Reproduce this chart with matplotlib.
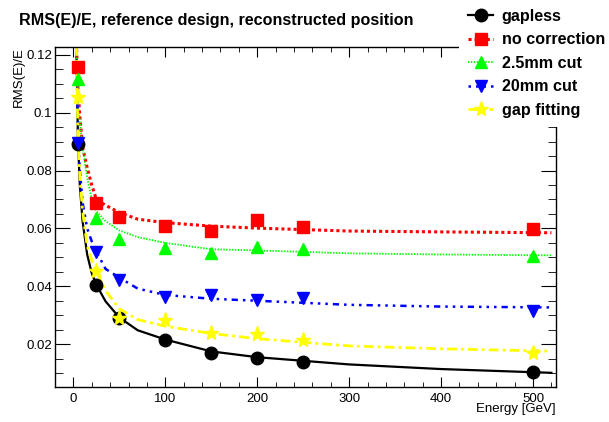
import numpy as np
import matplotlib
matplotlib.use("Agg")
from matplotlib import pyplot as plt
from matplotlib.ticker import MultipleLocator

plt.rcParams["font.family"] = ["Liberation Sans", "DejaVu Sans"]

# measured points
energy = [5, 25, 50, 100, 150, 200, 250, 500]
gapless = [0.0892, 0.0403, 0.0292, 0.0216, 0.0171, 0.0153, 0.0139, 0.0104]
no_corr = [0.1159, 0.0689, 0.0641, 0.0610, 0.0591, 0.0628, 0.0605, 0.0597]
cut_25 = [0.1116, 0.0635, 0.0562, 0.0534, 0.0516, 0.0536, 0.0528, 0.0505]
cut_20 = [0.0895, 0.0518, 0.0421, 0.0363, 0.0369, 0.0354, 0.0358, 0.0315]
gap_fit = [0.1053, 0.0453, 0.0292, 0.0285, 0.0239, 0.0234, 0.0214, 0.0170]

# fitted curves
fit_E = [3.3, 5, 7, 10, 15, 20, 25, 35, 50, 70, 100, 150, 200, 300, 400, 520]
fit_gapless = [0.123, 0.090, 0.075, 0.0625, 0.0510, 0.0445, 0.0405, 0.0348, 0.0292,
               0.0248, 0.0216, 0.0175, 0.0155, 0.0130, 0.0114, 0.0101]
fit_no_corr = [0.124, 0.108, 0.099, 0.088, 0.081, 0.075, 0.0700, 0.0680, 0.0655,
               0.0632, 0.0620, 0.0608, 0.0601, 0.0591, 0.0588, 0.0585]
fit_cut_25 = [0.124, 0.105, 0.097, 0.088, 0.0775, 0.070, 0.0660, 0.0625, 0.0593,
              0.0570, 0.0550, 0.0528, 0.0524, 0.0514, 0.0510, 0.0507]
fit_cut_20 = [0.123, 0.092, 0.080, 0.069, 0.060, 0.0555, 0.0520, 0.0460, 0.0430,
              0.0392, 0.0370, 0.0357, 0.0350, 0.0336, 0.0330, 0.0327]
fit_gap_fit = [0.123, 0.091, 0.078, 0.066, 0.054, 0.049, 0.0450, 0.0385, 0.0322,
               0.0285, 0.0262, 0.0237, 0.0219, 0.0194, 0.0184, 0.0176]

series = [
    ("gapless", gapless, fit_gapless, "black", "o", "-", 1.6),
    ("no correction", no_corr, fit_no_corr, "#ff0000", "s", (0, (1.0, 1.0)), 2.2),
    ("2.5mm cut", cut_25, fit_cut_25, "#00ff00", "^", (0, (0.8, 0.8)), 1.3),
    ("20mm cut", cut_20, fit_cut_20, "#0000ff", "v", (0, (1, 2, 1, 2, 1, 2, 2.5, 2)), 1.8),
    ("gap fitting", gap_fit, fit_gap_fit, "#ffff00", "*", (0, (3.5, 1.5, 1, 1.5)), 2.0),
]

fig = plt.figure(figsize=(6.09, 4.22), dpi=100)
ax = fig.add_axes([55 / 609, 1 - 387 / 422, 501 / 609, 340 / 422])

handles = []
for label, y, yfit, col, mk, ls, lw in series:
    ax.plot(fit_E, yfit, color=col, linestyle=ls, linewidth=lw, zorder=2)
    ms = 11 if mk == "*" else 9
    ax.plot(energy, y, linestyle="none", marker=mk, markersize=ms, color=col,
            markeredgecolor=col, zorder=3)
    h, = ax.plot([], [], color=col, linestyle=ls, linewidth=lw, marker=mk,
                 markersize=ms, markeredgecolor=col)
    handles.append(h)

ax.set_xlim(-20, 525)
ax.set_ylim(0.0052, 0.1227)
ax.xaxis.set_major_locator(MultipleLocator(100))
ax.xaxis.set_minor_locator(MultipleLocator(20))
ax.yaxis.set_minor_locator(MultipleLocator(0.005))
ax.set_yticks([0.02, 0.04, 0.06, 0.08, 0.1, 0.12])
ax.set_yticklabels(["0.02", "0.04", "0.06", "0.08", "0.1", "0.12"])
ax.tick_params(which="both", direction="in", top=True, right=True, labelsize=9.5)
ax.tick_params(axis="x", which="major", length=7, pad=4)
ax.tick_params(axis="x", which="minor", length=3.6)
ax.tick_params(axis="y", which="major", length=11, pad=2)
ax.tick_params(axis="y", which="minor", length=5.5)
for s in ax.spines.values():
    s.set_linewidth(1.0)

ax.set_xlabel("Energy [GeV]", fontsize=9.5, loc="right")
ax.xaxis.set_label_coords(1.0, -0.048)
ax.xaxis.label.set_va("top")
ax.set_ylabel("RMS(E)/E", fontsize=9.5, loc="top")
ax.yaxis.set_label_coords(-0.06, 1.0)

fig.text(19 / 609, 1 - 21 / 422, "RMS(E)/E, reference design, reconstructed position",
         fontsize=11.6, fontweight="bold", ha="left", va="center")

leg = ax.legend(handles, [s[0] for s in series], loc="upper left",
                bbox_to_anchor=(459 / 609, 1.0), bbox_transform=fig.transFigure,
                borderaxespad=0, borderpad=0.54, frameon=True, fancybox=False,
                edgecolor="none", facecolor="white", framealpha=1,
                prop={"size": 11.6, "weight": "bold"}, handlelength=1.6,
                handletextpad=0.5, labelspacing=0.53)
leg.set_zorder(10)

plt.savefig("out.png", dpi=100)
